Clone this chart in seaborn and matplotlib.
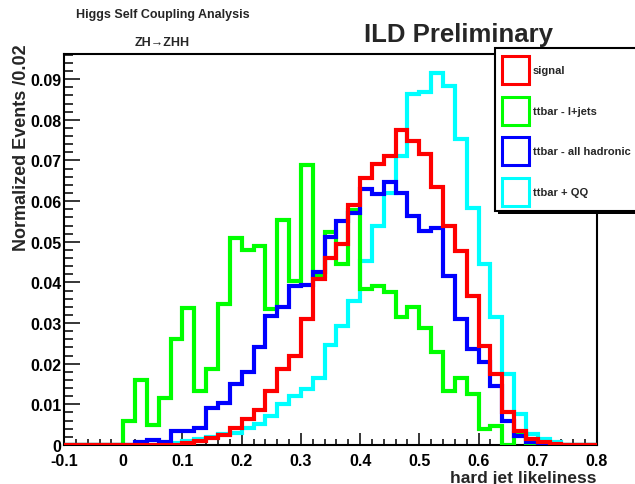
import numpy as np
import pandas as pd
import matplotlib
matplotlib.use("Agg")
import matplotlib.pyplot as plt
from matplotlib.patches import Rectangle
from matplotlib.ticker import MultipleLocator, FuncFormatter
import seaborn as sns

# 45 bins of width 0.02 between -0.1 and 0.8
bin_edges = [round(v, 3) for v in np.linspace(-0.1, 0.8, 46)]
bin_centers = [0.5 * (a + b) for a, b in zip(bin_edges[:-1], bin_edges[1:])]

# normalized events per bin
signal = [0] * 10 + [
    0.0005, 0.001, 0.0018, 0.0025, 0.0043, 0.0064, 0.0087, 0.0132, 0.0187, 0.022,
    0.031, 0.0408, 0.0459, 0.0494, 0.059, 0.0656, 0.0691, 0.071, 0.0775, 0.0748,
    0.0716, 0.0634, 0.0539, 0.0478, 0.0367, 0.0244, 0.0175, 0.0082, 0.0035, 0.0015,
    0.0007, 0.0003, 0.0001, 0, 0]
ttbar_ljets = [0] * 5 + [
    0.006, 0.016, 0.005, 0.0115, 0.026, 0.0337, 0.0133, 0.0187, 0.0347, 0.051,
    0.048, 0.049, 0.0334, 0.0553, 0.0403, 0.069, 0.0416, 0.0524, 0.0445, 0.0578,
    0.0384, 0.039, 0.0376, 0.0315, 0.0339, 0.0289, 0.0228, 0.0134, 0.0166, 0.0125,
    0.0039, 0.0047, 0, 0.003] + [0] * 6
ttbar_hadronic = [0] * 6 + [
    0.0008, 0.0012, 0.0008, 0.0035, 0.0035, 0.0042, 0.0091, 0.0103, 0.015, 0.0179,
    0.024, 0.0318, 0.0339, 0.0392, 0.0394, 0.0425, 0.0511, 0.0552, 0.057, 0.0631,
    0.0617, 0.0646, 0.0621, 0.0564, 0.0527, 0.0535, 0.0416, 0.031, 0.0236, 0.0203,
    0.0146, 0.0058, 0.0023, 0.0007] + [0] * 5
ttbar_qq = [0] * 9 + [
    0.0005, 0.001, 0.0015, 0.002, 0.0028, 0.003, 0.0043, 0.0052, 0.0072, 0.01,
    0.012, 0.0138, 0.0166, 0.0246, 0.0294, 0.0355, 0.0453, 0.0539, 0.0621, 0.0711,
    0.0863, 0.0869, 0.0916, 0.0883, 0.0752, 0.0584, 0.0445, 0.0314, 0.0175, 0.0076,
    0.0027, 0.0015, 0.0007] + [0] * 3

series_labels = ["signal", "ttbar - l+jets", "ttbar - all hadronic", "ttbar + QQ"]
series_values = [signal, ttbar_ljets, ttbar_hadronic, ttbar_qq]
series_colors = ["#ff0000", "#00ff00", "#0000ff", "#00ffff"]

frame = pd.DataFrame({
    "x": np.tile(bin_centers, len(series_labels)),
    "w": np.concatenate(series_values),
    "sample": np.repeat(series_labels, len(bin_centers)),
})

sns.set_style("ticks")
plt.rcParams["font.family"] = ["Liberation Sans", "DejaVu Sans"]
plt.rcParams["font.weight"] = "bold"
plt.rcParams["axes.unicode_minus"] = False

W, H = 635, 485
fig = plt.figure(figsize=(W / 100, H / 100), dpi=100)
fig.patch.set_facecolor("white")


def fx(px):
    return px / W


def fy(py):
    return 1 - py / H


ax = fig.add_axes([fx(64), fy(446), (597 - 64) / W, (446 - 55) / H])

# backgrounds first, signal on top
for i in [3, 1, 2, 0]:
    sub = frame[frame["sample"] == series_labels[i]]
    sns.histplot(data=sub, x="x", weights="w", bins=bin_edges, element="step",
                 fill=False, color=series_colors[i], linewidth=3,
                 solid_joinstyle="miter", zorder=3, ax=ax)

ax.set_xlim(-0.1, 0.8)
ax.set_ylim(0, 0.0962)
ax.set_xlabel("")
ax.set_ylabel("")

ax.xaxis.set_major_locator(MultipleLocator(0.1))
ax.xaxis.set_minor_locator(MultipleLocator(0.02))
ax.yaxis.set_major_locator(MultipleLocator(0.01))
ax.yaxis.set_minor_locator(MultipleLocator(0.002))
tick_fmt = FuncFormatter(lambda v, p: "0" if abs(v) < 1e-9 else f"{v:g}")
ax.xaxis.set_major_formatter(tick_fmt)
ax.yaxis.set_major_formatter(tick_fmt)

ax.tick_params(axis="both", which="both", direction="in", width=1.1,
               colors="black", labelsize=11.5, top=False, right=False)
ax.tick_params(axis="x", which="major", length=8.5, pad=6)
ax.tick_params(axis="x", which="minor", length=4.5)
ax.tick_params(axis="y", which="major", length=11.5, pad=2)
ax.tick_params(axis="y", which="minor", length=6.5)
for lbl in ax.get_xticklabels() + ax.get_yticklabels():
    lbl.set_fontweight("bold")
for sp in ax.spines.values():
    sp.set_visible(True)
    sp.set_linewidth(1.5)
    sp.set_color("black")

# axis titles
fig.text(fx(596), fy(479), "hard jet likeliness", ha="right", va="center",
         fontsize=12.5, fontweight="bold")
fig.text(fx(22), fy(44), "Normalized Events /0.02", rotation=90,
         ha="center", va="top", fontsize=13, fontweight="bold")

# header texts
fig.text(fx(163), fy(15), "Higgs Self Coupling Analysis", ha="center",
         va="center", fontsize=9, fontweight="bold")
fig.text(fx(162), fy(43), "ZH→ZHH", ha="center", va="center",
         fontsize=9, fontweight="bold")
fig.text(fx(458), fy(35), "ILD Preliminary", ha="center", va="center",
         fontsize=18.5, fontweight="bold")

# legend box with drop shadow
fig.add_artist(Rectangle((fx(498), fy(215)), (640 - 498) / W, (215 - 52) / H,
                         transform=fig.transFigure, facecolor="black",
                         edgecolor="none", zorder=10))
fig.add_artist(Rectangle((fx(495), fy(212)), (640 - 495) / W, (212 - 49) / H,
                         transform=fig.transFigure, facecolor="white",
                         edgecolor="black", linewidth=1.5, zorder=11))
entry_y = [71, 112, 152, 193]
for cy, lab, col in zip(entry_y, series_labels, series_colors):
    fig.add_artist(Rectangle((fx(501.5), fy(cy + 14)), 27 / W, 28 / H,
                             transform=fig.transFigure, facecolor="white",
                             edgecolor=col, linewidth=2.2, zorder=12))
    fig.text(fx(533), fy(cy), lab, ha="left", va="center", fontsize=8,
             fontweight="bold", zorder=13)

fig.savefig("out.png", dpi=100, facecolor="white")
